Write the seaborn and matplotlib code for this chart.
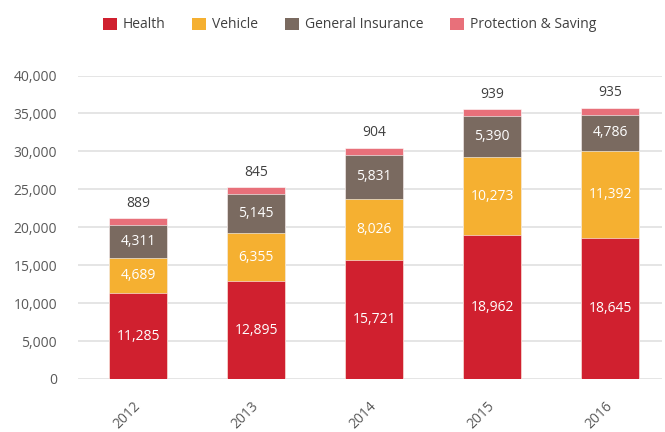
import pandas as pd
import matplotlib.pyplot as plt
import seaborn as sns
from matplotlib.patches import Patch

years = ["2012", "2013", "2014", "2015", "2016"]
health = [11285, 12895, 15721, 18962, 18645]
vehicle = [4689, 6355, 8026, 10273, 11392]
general = [4311, 5145, 5831, 5390, 4786]
protection = [889, 845, 904, 939, 935]

series = ["Health", "Vehicle", "General Insurance", "Protection & Saving"]
colors = ["#D0202F", "#F5B031", "#7A6A60", "#E8707A"]

df = pd.DataFrame({"Year": years, "Health": health, "Vehicle": vehicle,
                   "General Insurance": general, "Protection & Saving": protection})

sns.set_theme(style="white")
plt.rcParams["font.family"] = ["Open Sans", "DejaVu Sans"]

fig = plt.figure(figsize=(6.65, 4.32), dpi=100)
ax = fig.add_axes([78 / 665, 53 / 432, 584 / 665, 303.5 / 432])

# seaborn draws the tallest (cumulative) bar first, each shorter one on top
cum = df[series].cumsum(axis=1)
for name, col in reversed(list(zip(series, colors))):
    sns.barplot(x=df["Year"], y=cum[name], color=col, width=0.49, ax=ax,
                saturation=1, edgecolor="white", linewidth=0.4, zorder=3)

bottom = cum[series[0]] * 0
for name in series:
    for i, (v, b) in enumerate(zip(df[name], bottom)):
        if name == "Protection & Saving":
            ax.annotate(f"{v:,}", (i, b + v), xytext=(0, 5.5), textcoords="offset points",
                        ha="center", va="bottom", fontsize=10, color="#404040")
        else:
            ax.text(i, b + v / 2, f"{v:,}", ha="center", va="center",
                    fontsize=10, color="white")
    bottom = bottom + df[name]

ax.set_xlim(-0.51, 4.44)
ax.set_ylim(0, 40000)
ax.set_yticks(range(0, 40001, 5000))
ax.set_yticklabels([f"{v:,}" for v in range(0, 40001, 5000)])
ax.set_xticks(range(len(years)))
ax.set_xticklabels(years, rotation=45, ha="right", va="center", rotation_mode="anchor")
ax.tick_params(axis="both", labelsize=10, colors="#595959", length=0)
ax.tick_params(axis="y", pad=15)
ax.tick_params(axis="x", pad=18)
ax.yaxis.grid(True, color="#E0E0E0", linewidth=1.2, zorder=0)
ax.set_axisbelow(True)
ax.set_xlabel("")
ax.set_ylabel("")
sns.despine(ax=ax, left=True, bottom=True)

handles = [Patch(facecolor=c, edgecolor="none") for c in colors]
fig.legend(handles, series, loc="center", bbox_to_anchor=(349.5 / 665, 1 - 25 / 432), ncol=4,
           frameon=False, fontsize=10, handlelength=1.0, handleheight=1.0,
           handletextpad=0.45, columnspacing=1.9, labelcolor="#404040")

fig.savefig("out.png", dpi=100)
